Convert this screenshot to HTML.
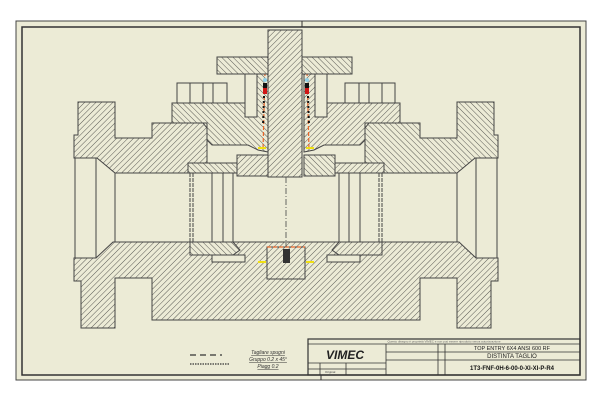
<!DOCTYPE html>
<html><head><meta charset="utf-8"><style>
html,body{margin:0;padding:0;background:#fff;width:600px;height:400px;overflow:hidden}
svg{display:block}
text{font-family:"Liberation Sans",sans-serif}
</style></head><body>
<svg width="600" height="400" viewBox="0 0 600 400" xmlns="http://www.w3.org/2000/svg">
<defs>
<pattern id="h1" patternUnits="userSpaceOnUse" width="4" height="4" patternTransform="rotate(45)">
<rect width="4" height="4" fill="#ecebd6"/><line x1="0" y1="0" x2="0" y2="4" stroke="#5a5a55" stroke-width="1"/></pattern>
<pattern id="h2" patternUnits="userSpaceOnUse" width="4" height="4" patternTransform="rotate(-45)">
<rect width="4" height="4" fill="#ecebd6"/><line x1="0" y1="0" x2="0" y2="4" stroke="#5a5a55" stroke-width="1"/></pattern>
<g id="half" stroke="#444" stroke-width="1" fill="url(#h1)">
<polygon points="78,102 115,102 115,138 152,138 152,123 203,123 207,128 207,163 188,163 188,173 115,173 97,158 74,158 74,135 78,135"/>
<polygon fill="url(#h2)" points="172,103 257,103 257,74 268,74 268,152 258,150 248,145 212,145 207,140 207,123 172,123"/>
<polygon points="237,155 268,155 268,176 237,176"/>
<polygon fill="url(#h2)" points="188,163 237,163 237,173 188,173"/>
<g fill="none">
<line x1="75" y1="158" x2="75" y2="258"/><line x1="96" y1="158" x2="96" y2="258"/><line x1="115" y1="173" x2="115" y2="242"/>
<line x1="190" y1="173" x2="190" y2="242" stroke-dasharray="4,1"/><line x1="193" y1="173" x2="193" y2="242" stroke-dasharray="4,1"/>
<line x1="212" y1="173" x2="212" y2="242"/><line x1="223" y1="173" x2="223" y2="242"/><line x1="233" y1="173" x2="233" y2="242"/>
</g>
<g fill="#ecebd6">
<rect x="177" y="83" width="13" height="20"/><rect x="190" y="83" width="13" height="20"/>
<rect x="203" y="83" width="10" height="20"/><rect x="213" y="83" width="14" height="20"/>
<rect x="245" y="60" width="12" height="57"/><rect x="243" y="58" width="16" height="8"/>
</g>
<polygon fill="url(#h2)" points="190,242 233,242 240,250 233,255 190,255"/>
<rect x="212" y="255" width="33" height="7" fill="#ecebd6"/>
<line x1="265" y1="72" x2="263" y2="150" stroke="#e8662a" stroke-width="1.2" stroke-dasharray="4,2"/>
<circle cx="265" cy="80" r="2" fill="#8fd0e8" stroke="none"/>
<rect x="263" y="83" width="4" height="5" fill="#111" stroke="none"/><rect x="263" y="88" width="4" height="6" fill="#d01515" stroke="none"/>
<line x1="264" y1="96" x2="263" y2="125" stroke="#111" stroke-width="2" stroke-dasharray="2,3"/>
<line x1="258" y1="148" x2="266" y2="148" stroke="#f0e010" stroke-width="2"/>
<line x1="258" y1="262" x2="266" y2="262" stroke="#f0e010" stroke-width="2"/>
</g>
</defs>
<rect x="16" y="21" width="570" height="359" fill="#ecebd6" stroke="#444" stroke-width="1"/>
<rect x="22" y="27" width="558" height="348" fill="none" stroke="#333" stroke-width="1.5"/>
<line x1="302" y1="21" x2="302" y2="27" stroke="#333"/>
<line x1="321" y1="375" x2="321" y2="380" stroke="#333"/>
<polygon points="74,258 96,258 113,242 459,242 476,258 498,258 498,281 491,281 491,328 457,328 457,278 420,278 420,320 152,320 152,278 115,278 115,328 81,328 81,281 74,281" fill="url(#h1)" stroke="#444"/>
<use href="#half"/>
<use href="#half" transform="translate(572,0) scale(-1,1)"/>
<rect x="217" y="57" width="135" height="17" fill="url(#h2)" stroke="#444"/>
<rect x="268" y="30" width="34" height="147" fill="url(#h1)" stroke="#444"/>
<rect x="267" y="247" width="38" height="32" fill="url(#h1)" stroke="#444"/>
<rect x="283" y="249" width="7" height="14" fill="#333"/>
<line x1="267" y1="247" x2="305" y2="247" stroke="#e8662a" stroke-width="1.2" stroke-dasharray="4,2"/>
<line x1="286" y1="177" x2="286" y2="247" stroke="#444" stroke-width="0.8" stroke-dasharray="6,2,1,2"/>
<line x1="190" y1="355" x2="222" y2="355" stroke="#333" stroke-width="1.2" stroke-dasharray="6,4"/>
<line x1="190" y1="364" x2="230" y2="364" stroke="#333" stroke-width="1.2" stroke-dasharray="1.5,1"/>
<g font-size="5" font-style="italic" fill="#333" text-anchor="middle" text-decoration="underline">
<text x="268" y="354">Tagliare spugni</text><text x="268" y="361">Gruppo 0.2 x 45°</text><text x="268" y="368">Piagg 0.2</text></g>
<g stroke="#333" stroke-width="0.8" fill="none">
<rect x="308" y="339" width="272" height="36" stroke-width="1.2"/>
<line x1="308" y1="344" x2="580" y2="344"/>
<line x1="386" y1="344" x2="386" y2="375"/><line x1="438" y1="344" x2="438" y2="375"/><line x1="445" y1="344" x2="445" y2="375"/>
<line x1="308" y1="363" x2="386" y2="363"/><line x1="308" y1="369" x2="386" y2="369"/><line x1="320" y1="363" x2="320" y2="375"/><line x1="346" y1="363" x2="346" y2="375"/>
<line x1="438" y1="352" x2="580" y2="352"/><line x1="438" y1="360" x2="580" y2="360"/>
<line x1="386" y1="352" x2="438" y2="352"/><line x1="386" y1="360" x2="438" y2="360"/>
</g>
<text x="345" y="359" font-size="12" font-style="italic" font-weight="bold" text-anchor="middle" fill="#222">VIMEC</text>
<text x="512" y="350" font-size="5.5" text-anchor="middle" fill="#222">TOP ENTRY 6X4 ANSI 600 RF</text>
<text x="512" y="358" font-size="6" text-anchor="middle" fill="#222">DISTINTA TAGLIO</text>
<text x="512" y="370" font-size="6" font-weight="bold" text-anchor="middle" fill="#111">1T3-FNF-0H-6-00-0-XI-XI-P-R4</text>
<text x="325" y="373" font-size="3" fill="#444">Original</text>
<text x="444" y="342.5" font-size="3" text-anchor="middle" fill="#666">Questo disegno è proprietà VIMEC e non può essere riprodotto senza autorizzazione</text>
</svg>
</body></html>
